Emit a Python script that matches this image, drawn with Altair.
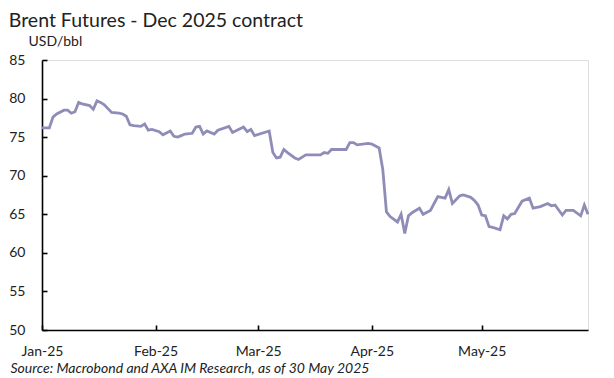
import altair as alt
import pandas as pd

dates = [
    "2025-01-01", "2025-01-03", "2025-01-04", "2025-01-05", "2025-01-07", "2025-01-08",
    "2025-01-09", "2025-01-10", "2025-01-11", "2025-01-12", "2025-01-14", "2025-01-15",
    "2025-01-16", "2025-01-17", "2025-01-18", "2025-01-19", "2025-01-20", "2025-01-22",
    "2025-01-23", "2025-01-24", "2025-01-25", "2025-01-26", "2025-01-28", "2025-01-29",
    "2025-01-30", "2025-01-31", "2025-02-02", "2025-02-03", "2025-02-05", "2025-02-06",
    "2025-02-07", "2025-02-08", "2025-02-09", "2025-02-11", "2025-02-12", "2025-02-13",
    "2025-02-14", "2025-02-15", "2025-02-17", "2025-02-18", "2025-02-21", "2025-02-22",
    "2025-02-25", "2025-02-26", "2025-02-27", "2025-02-28", "2025-03-04", "2025-03-05",
    "2025-03-06", "2025-03-07", "2025-03-08", "2025-03-09", "2025-03-11", "2025-03-12",
    "2025-03-14", "2025-03-18", "2025-03-19", "2025-03-20", "2025-03-21", "2025-03-25",
    "2025-03-26", "2025-03-27", "2025-03-28", "2025-03-31", "2025-04-01", "2025-04-03",
    "2025-04-04", "2025-04-05", "2025-04-06", "2025-04-08", "2025-04-09", "2025-04-10",
    "2025-04-11", "2025-04-12", "2025-04-14", "2025-04-15", "2025-04-17", "2025-04-19",
    "2025-04-21", "2025-04-22", "2025-04-23", "2025-04-25", "2025-04-26", "2025-04-28",
    "2025-04-29", "2025-04-30", "2025-05-01", "2025-05-02", "2025-05-03", "2025-05-04",
    "2025-05-06", "2025-05-07", "2025-05-08", "2025-05-09", "2025-05-10", "2025-05-12",
    "2025-05-14", "2025-05-15", "2025-05-17", "2025-05-19", "2025-05-20", "2025-05-21",
    "2025-05-23", "2025-05-24", "2025-05-26", "2025-05-28", "2025-05-29", "2025-05-30",
]
prices = [
    76.2, 76.2, 77.6, 78.0, 78.5, 78.5,
    78.1, 78.3, 79.5, 79.3, 79.1, 78.6,
    79.7, 79.5, 79.2, 78.7, 78.2, 78.1,
    78.0, 77.7, 76.6, 76.5, 76.4, 76.7,
    75.9, 76.0, 75.7, 75.3, 75.8, 75.1,
    75.0, 75.2, 75.4, 75.5, 76.3, 76.4,
    75.4, 75.8, 75.4, 75.9, 76.4, 75.6,
    76.3, 75.7, 76.0, 75.2, 75.8, 73.0,
    72.3, 72.4, 73.4, 73.0, 72.3, 72.1,
    72.7, 72.7, 73.0, 72.9, 73.4, 73.4,
    74.3, 74.3, 74.0, 74.2, 74.1, 73.6,
    70.8, 65.3, 64.7, 64.0, 65.0, 62.5,
    64.8, 65.2, 65.8, 65.0, 65.5, 67.3,
    67.1, 68.2, 66.4, 67.4, 67.5, 67.2,
    66.8, 66.2, 64.9, 64.8, 63.4, 63.3,
    63.0, 64.8, 64.4, 65.0, 65.1, 66.7,
    67.1, 65.8, 66.0, 66.4, 66.1, 66.2,
    64.9, 65.5, 65.5, 64.8, 66.2, 65.0,
]

title_text = "Brent Futures - Dec 2025 contract"
unit_text = "USD/bbl"
source_text = "Source: Macrobond and AXA IM Research, as of 30 May 2025"
x_domain = ["2025-01-01", "2025-05-30"]
y_ticks = [50, 55, 60, 65, 70, 75, 80, 85]
month_ticks = ["2025-01-01", "2025-02-01", "2025-03-01", "2025-04-01", "2025-05-01"]

df = pd.DataFrame({"date": pd.to_datetime(dates), "price": prices})

FONT = "Lato"
W, H = 546, 270

x_scale = alt.Scale(domain=[pd.Timestamp(d).isoformat() for d in x_domain])
y_scale = alt.Scale(domain=[50, 85], nice=False, zero=False)
x_vals = [alt.DateTime(year=2025, month=int(m[5:7]), date=1) for m in month_ticks]

line = alt.Chart(df).mark_line(color="#8F8DB8", strokeWidth=2.8).encode(
    x=alt.X("date:T", scale=x_scale,
            axis=alt.Axis(values=x_vals, format="%b-%y", labelFont=FONT, labelFontSize=14,
                          labelColor="#222222", tickSize=0, labelPadding=14,
                          domainColor="black", domainWidth=1.6, grid=False,
                          title=source_text, titleFont=FONT, titleFontSize=14,
                          titleFontStyle="italic", titleFontWeight="normal",
                          titleColor="#222222", titleAnchor="start", titleAlign="left",
                          titleX=-32, titleY=42, titleBaseline="alphabetic",
                          labelFlush=False, labelOverlap=False)),
    y=alt.Y("price:Q", scale=y_scale,
            axis=alt.Axis(values=y_ticks, labelFont=FONT, labelFontSize=14,
                          labelColor="#222222", tickSize=0, labelPadding=17,
                          domainColor="black", domainWidth=1.6, grid=False,
                          title=unit_text, titleFont=FONT, titleFontSize=14,
                          titleFontWeight="normal", titleColor="#222222",
                          titleAngle=0, titleAlign="left", titleBaseline="alphabetic",
                          titleX=-14, titleY=-15)),
)

ticks = alt.Chart(df).mark_line(opacity=0).encode(
    x=alt.X("date:T", scale=x_scale,
            axis=alt.Axis(orient="top", offset=-H, values=x_vals, labels=False,
                          domain=False, tickSize=5, tickColor="black", tickWidth=1.6,
                          grid=False, title=None)),
    y=alt.Y("price:Q", scale=y_scale,
            axis=alt.Axis(orient="right", offset=-W, values=y_ticks, labels=False,
                          domain=False, tickSize=5, tickColor="black", tickWidth=1.6,
                          grid=False, title=None)),
)

chart = alt.layer(line, ticks).resolve_axis(x="independent", y="independent").properties(
    width=W,
    height=H,
    title=alt.TitleParams(title_text, anchor="start", font=FONT, fontSize=19.5,
                          fontWeight="normal", color="#222222", dx=0, dy=20,
                          baseline="alphabetic", offset=8),
    autosize=alt.AutoSizeParams(type="none"),
    padding={"left": 34, "top": 52, "right": 18, "bottom": 46},
).configure_view(stroke=None).configure(background="white")

chart.save("out.html", embed_options={"renderer": "svg", "actions": False})
